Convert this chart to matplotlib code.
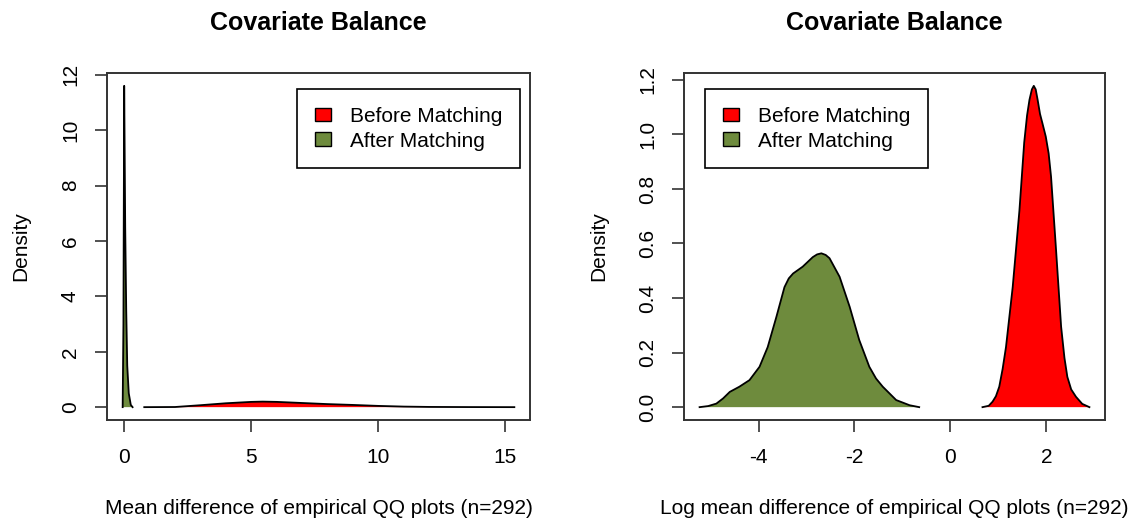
import matplotlib
matplotlib.use("Agg")
from matplotlib import pyplot as plt
from matplotlib.patches import Patch

plt.rcParams['font.family'] = ['Liberation Sans', 'DejaVu Sans']

# Density of the mean QQ difference per covariate (raw scale)
raw_before_x = [0.79, 2.0, 3.0, 4.0, 5.0, 5.45, 6.0, 7.0, 8.0, 9.0, 10.0, 11.0, 12.0, 13.5, 15.35]
raw_before_y = [0.0, 0.005, 0.07, 0.14, 0.19, 0.20, 0.19, 0.15, 0.11, 0.08, 0.045, 0.02, 0.008, 0.003, 0.0]
raw_after_x = [-0.06, -0.03, 0.0, 0.04, 0.08, 0.12, 0.18, 0.26, 0.33]
raw_after_y = [0.0, 3.0, 11.6, 6.5, 3.5, 1.5, 0.5, 0.08, 0.0]

# Same thing on the log scale
log_before_x = [0.67, 0.80, 0.88, 0.95, 1.02, 1.09, 1.16, 1.30, 1.44, 1.54, 1.60, 1.65, 1.70, 1.74,
                1.78, 1.82, 1.87, 1.92, 1.99, 2.05, 2.10, 2.20, 2.31, 2.38, 2.44, 2.52, 2.62, 2.75, 2.90]
log_before_y = [0.0, 0.005, 0.02, 0.04, 0.075, 0.14, 0.22, 0.44, 0.72, 0.97, 1.07, 1.127, 1.165, 1.178,
                1.165, 1.127, 1.075, 1.041, 0.992, 0.93, 0.845, 0.588, 0.295, 0.18, 0.111, 0.065, 0.038, 0.012, 0.0]
log_after_x = [-5.23, -5.05, -4.88, -4.74, -4.60, -4.40, -4.19, -3.98, -3.81, -3.63, -3.46, -3.37,
               -3.28, -3.08, -2.87, -2.78, -2.69, -2.60, -2.52, -2.31, -2.10, -1.90, -1.69, -1.55,
               -1.41, -1.13, -0.85, -0.65]
log_after_y = [0.0, 0.004, 0.013, 0.032, 0.056, 0.075, 0.099, 0.148, 0.22, 0.33, 0.44, 0.472,
               0.49, 0.515, 0.55, 0.56, 0.564, 0.558, 0.546, 0.478, 0.368, 0.246, 0.148, 0.105,
               0.075, 0.026, 0.007, 0.0]

raw_xticks = [0, 5, 10, 15]
raw_yticks = [0, 2, 4, 6, 8, 10, 12]
log_xticks = [-4, -2, 0, 2]
log_yticks = [0.0, 0.2, 0.4, 0.6, 0.8, 1.0, 1.2]

legend_labels = ["Before Matching", "After Matching"]
before_col = "#FF0000"
after_col = "#6E8B3D"
box_col = "#333333"


def r_limits(*series):
    # R style axis range: data range widened by 4% on each side
    lo = min(min(s) for s in series)
    hi = max(max(s) for s in series)
    pad = 0.04 * (hi - lo)
    return lo - pad, hi + pad


def density_panel(ax, bx, by, axx, ay, xticks, yticks, yfmt, xlabel):
    ax.fill(bx, by, facecolor=before_col, edgecolor="none")
    ax.plot(bx, by, color="black", lw=1.3, solid_joinstyle="round")
    ax.fill(axx, ay, facecolor=after_col, edgecolor="none")
    ax.plot(axx, ay, color="black", lw=1.3, solid_joinstyle="round")

    ax.set_xlim(r_limits(bx, axx))
    ax.set_ylim(r_limits(by, ay))
    ax.set_xticks(xticks)
    ax.set_xticklabels([str(t) for t in xticks])
    ax.set_yticks(yticks)
    ax.set_yticklabels([yfmt.format(t) for t in yticks], rotation=90, va="center")

    for s in ax.spines.values():
        s.set_color(box_col)
        s.set_linewidth(1.4)
    ax.tick_params(direction="out", length=8.5, width=1.2, color=box_col,
                   labelsize=15, pad=12)
    ax.tick_params(axis="y", pad=11)

    ax.set_title("Covariate Balance", fontsize=18, fontweight="bold", pad=31)
    ax.set_xlabel(xlabel, fontsize=15)
    ax.xaxis.label.set_va("center")
    ax.xaxis.set_label_coords(0.5, -0.254)
    ax.set_ylabel("Density", fontsize=15)
    ax.yaxis.label.set_va("center")
    ax.yaxis.set_label_coords(-0.203, 0.5)


fig = plt.figure(figsize=(11.33, 5.25), dpi=100)
ax1 = fig.add_axes([107 / 1133, 105 / 525, 423 / 1133, 347 / 525])
ax2 = fig.add_axes([684 / 1133, 105 / 525, 421 / 1133, 347 / 525])

density_panel(ax1, raw_before_x, raw_before_y, raw_after_x, raw_after_y,
              raw_xticks, raw_yticks, "{:d}",
              "Mean difference of empirical QQ plots (n=292)")
density_panel(ax2, log_before_x, log_before_y, log_after_x, log_after_y,
              log_xticks, log_yticks, "{:.1f}",
              "Log mean difference of empirical QQ plots (n=292)")

handles = [Patch(facecolor=before_col, edgecolor="black", lw=1.0),
           Patch(facecolor=after_col, edgecolor="black", lw=1.0)]
legend_opts = dict(fontsize=15, frameon=True, fancybox=False, framealpha=1,
                   edgecolor="black", handlelength=0.77, handleheight=0.63,
                   handletextpad=0.9, borderpad=0.85, labelspacing=0.28,
                   borderaxespad=0, loc="upper left",
                   bbox_transform=fig.transFigure)
leg1 = ax1.legend(handles, legend_labels,
                  bbox_to_anchor=(297 / 1133, 1 - 89 / 525), **legend_opts)
leg2 = ax2.legend(handles, legend_labels,
                  bbox_to_anchor=(705 / 1133, 1 - 89 / 525), **legend_opts)
for leg in (leg1, leg2):
    leg.get_frame().set_linewidth(1.2)

fig.savefig("out.png", dpi=100)
